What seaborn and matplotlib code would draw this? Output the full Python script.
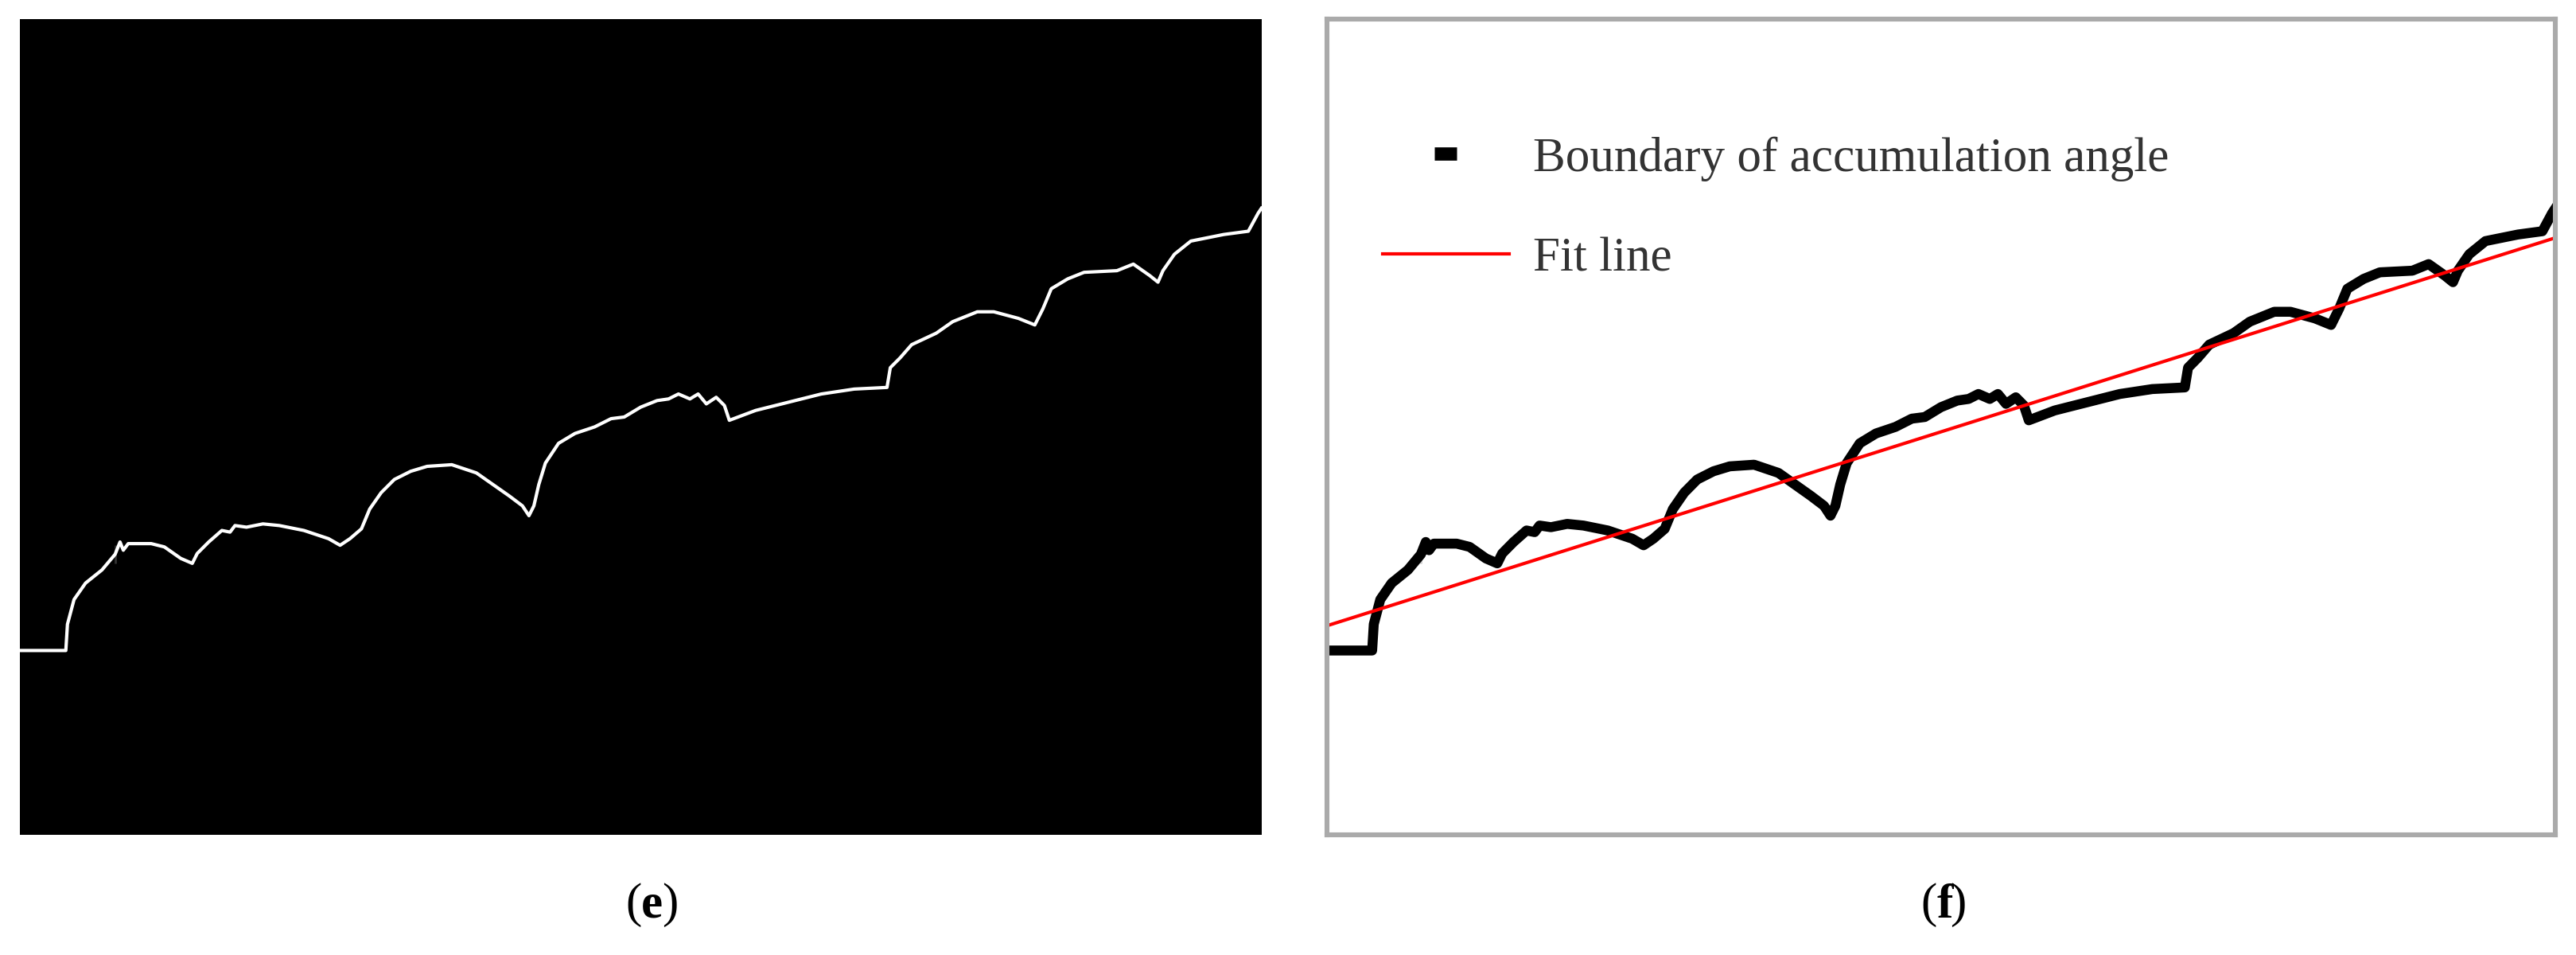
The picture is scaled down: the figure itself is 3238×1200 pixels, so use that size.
import numpy as np
import pandas as pd
import matplotlib.pyplot as plt
import seaborn as sns
from matplotlib.lines import Line2D

# boundary trace in image pixel coords (y grows downward)
bx = [12, 40, 41, 45, 52, 62, 70, 70, 73, 75, 78, 92, 100, 110, 117, 120, 127, 135, 140, 143,
      150, 160, 170, 185, 200, 207, 213, 220, 225, 232, 240, 250, 260, 275, 290, 300, 310, 318,
      322, 325, 328, 332, 340, 350, 362, 372, 380, 390, 400, 407, 413, 420, 425, 430, 436, 441,
      444, 460, 480, 500, 520, 540, 542, 548, 555, 570, 580, 595, 605, 620, 630, 635, 640, 650,
      660, 680, 690, 700, 705, 708, 715, 725, 735, 745, 760, 766, 768]
by = [396, 396, 380, 365, 355, 347, 343, 332, 330, 335, 331, 331, 333, 340, 343, 337, 330, 323, 324, 320,
      321, 319, 320, 323, 328, 332, 328, 322, 310, 300, 292, 287, 284, 283, 288, 295, 302, 308,
      314, 308, 295, 282, 270, 264, 260, 255, 254, 248, 244, 243, 240, 243, 240, 246, 242, 247,
      256, 250, 245, 240, 237, 236, 224, 218, 210, 203, 196, 190, 190, 194, 198, 188, 176, 170,
      166, 165, 161, 168, 172, 165, 155, 147, 145, 143, 141, 130, 127]
fit_x = [12, 768]
fit_y = [381, 145]

df = pd.DataFrame({'x': bx, 'y': by})
fit = pd.DataFrame({'x': fit_x, 'y': fit_y})

plt.rcParams['font.family'] = ['Liberation Serif', 'DejaVu Serif']
fig = plt.figure(figsize=(16.19, 6), dpi=200)
ax1 = fig.add_axes([0.0077, 0.126, 0.482, 0.854])
ax2 = fig.add_axes([0.515, 0.126, 0.477, 0.854])

for ax in (ax1, ax2):
    ax.set_xlim(12, 768)
    ax.set_ylim(508, 12)
    ax.set_xticks([])
    ax.set_yticks([])

ax1.set_facecolor('black')
for s in ax1.spines.values():
    s.set_visible(False)
sns.lineplot(data=df, x='x', y='y', ax=ax1, color='white', lw=1.5, sort=False)

for s in ax2.spines.values():
    s.set_color('#aaaaaa')
    s.set_linewidth(2.2)
sns.lineplot(data=df, x='x', y='y', ax=ax2, color='black', lw=4.5, sort=False)
sns.lineplot(data=fit, x='x', y='y', ax=ax2, color='red', lw=1.5)

for ax in (ax1, ax2):
    ax.set_xlabel('')
    ax.set_ylabel('')

handles = [Line2D([], [], color='black', marker='_', ls='none', markersize=10, markeredgewidth=6),
           Line2D([], [], color='red', lw=1.5)]
ax2.legend(handles, ['Boundary of accumulation angle', 'Fit line'], loc='upper left',
           bbox_to_anchor=(0.01, 0.91), frameon=False, fontsize=22, handlelength=2.6,
           labelspacing=1.15, handletextpad=0.5, labelcolor='#333333')

fig.text(0.249, 0.052, '(', ha='right', va='center', fontsize=22)
fig.text(0.249, 0.052, 'e', ha='left', va='center', fontsize=22, fontweight='bold')
fig.text(0.257, 0.052, ')', ha='left', va='center', fontsize=22)
fig.text(0.752, 0.052, '(', ha='right', va='center', fontsize=22)
fig.text(0.752, 0.052, 'f', ha='left', va='center', fontsize=22, fontweight='bold')
fig.text(0.757, 0.052, ')', ha='left', va='center', fontsize=22)

fig.savefig('out.png')
